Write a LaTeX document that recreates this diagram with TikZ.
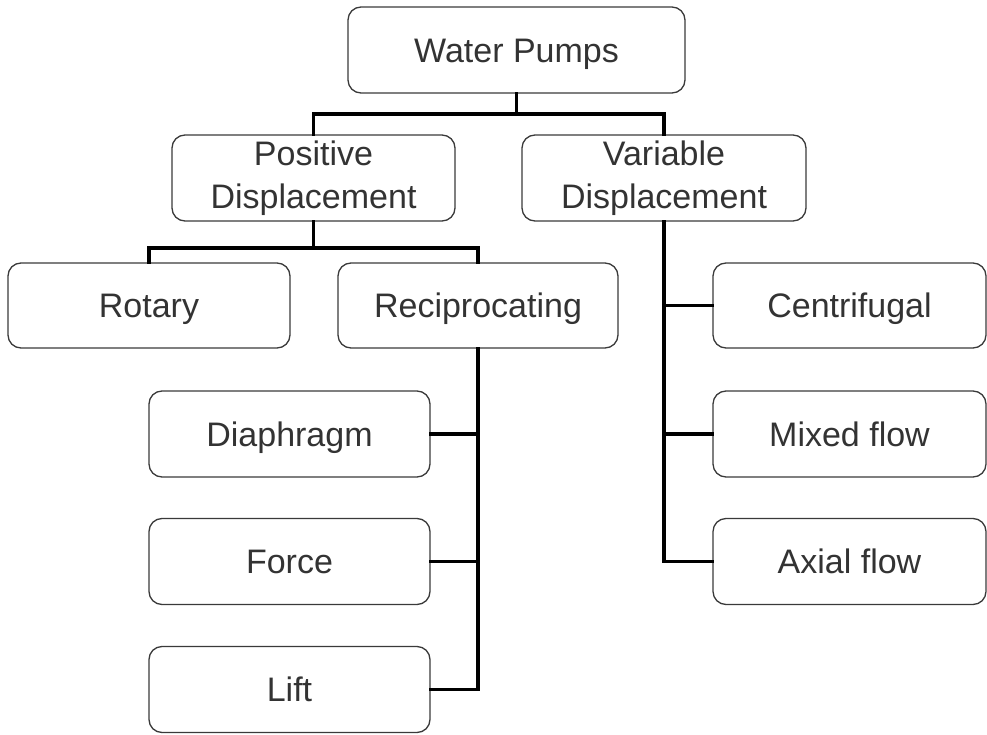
\documentclass[tikz,border=0pt]{standalone}
\usepackage{fontspec}
\setmainfont{Liberation Sans}
\usetikzlibrary{calc}
\definecolor{boxline}{HTML}{3A3A3A}
\definecolor{boxtext}{HTML}{333333}
\begin{document}
\begin{tikzpicture}[x=1pt,y=-1pt,
  pumpbox/.style={draw=boxline, line width=1.3pt, rounded corners=13pt,
    rectangle, inner sep=0pt, text=boxtext, align=center,
    font=\fontsize{34}{43}\selectfont},
  onebox/.style={pumpbox, text height=24.5pt, text depth=0pt},
  conn/.style={draw=black, line width=3.2pt, line cap=rect, line join=miter}]
\useasboundingbox (0,0) rectangle (987,735);

% boxes: centre, width, height
\node[onebox,  minimum width=337pt, minimum height=86pt] (wp)   at (516.5,50) {Water Pumps};
\node[pumpbox, minimum width=283pt, minimum height=86pt] (pd)   at (313.5,178) {Positive\\Displacement};
\node[pumpbox, minimum width=284pt, minimum height=86pt] (vd)   at (664,178) {Variable\\Displacement};
\node[onebox,  minimum width=282pt, minimum height=85pt] (rot)  at (149,305.5) {Rotary};
\node[onebox,  minimum width=280pt, minimum height=85pt] (rec)  at (478,305.5) {Reciprocating};
\node[onebox,  minimum width=273pt, minimum height=85pt] (cen)  at (849.5,305.5) {Centrifugal};
\node[onebox,  minimum width=281pt, minimum height=86pt] (dia)  at (289.5,434) {Diaphragm};
\node[onebox,  minimum width=281pt, minimum height=86pt] (frc)  at (289.5,561.5) {Force};
\node[onebox,  minimum width=281pt, minimum height=86pt] (lift) at (289.5,689.5) {Lift};
\node[onebox,  minimum width=273pt, minimum height=86pt] (mix)  at (849.5,434) {Mixed flow};
\node[onebox,  minimum width=273pt, minimum height=86pt] (axi)  at (849.5,561.5) {Axial flow};

% junction points of the tree
\coordinate (j1) at (516.5,114);
\coordinate (j2) at (313.5,248);

% Water Pumps -> two displacement classes
\draw[conn] (wp.south) -- (j1);
\draw[conn] (pd.north) |- (j1) -| (vd.north);

% Positive displacement -> rotary / reciprocating
\draw[conn] (pd.south) -- (j2);
\draw[conn] (rot.north) |- (j2) -| (rec.north);

% Reciprocating -> diaphragm / force / lift
\draw[conn] (rec.south) |- (lift.east);
\draw[conn] (dia.east) -- (dia.east -| rec.south);
\draw[conn] (frc.east) -- (frc.east -| rec.south);

% Variable displacement -> centrifugal / mixed / axial
\draw[conn] (vd.south) |- (axi.west);
\draw[conn] (cen.west) -- (cen.west -| vd.south);
\draw[conn] (mix.west) -- (mix.west -| vd.south);
\end{tikzpicture}
\end{document}
